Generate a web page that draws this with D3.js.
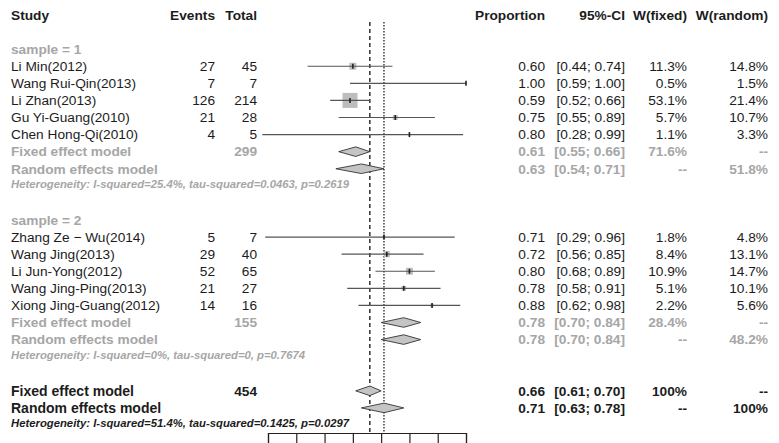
<!DOCTYPE html>
<html>
<head>
<meta charset="utf-8">
<script src="https://cdn.jsdelivr.net/npm/d3@7"></script>
<style>
  body { margin: 0; background: #fff; }
  text { font-family: "Liberation Sans", Arial, sans-serif; }
</style>
</head>
<body>
<div id="visualization"></div>
<script>
// Study level data
const studies = ["Li Min(2012)", "Wang Rui-Qin(2013)", "Li Zhan(2013)", "Gu Yi-Guang(2010)", "Chen Hong-Qi(2010)",
                 "Zhang Ze \u2212 Wu(2014)", "Wang Jing(2013)", "Li Jun-Yong(2012)", "Wang Jing-Ping(2013)", "Xiong Jing-Guang(2012)"];
const sampleGroup = [1, 1, 1, 1, 1, 2, 2, 2, 2, 2];
const events = [27, 7, 126, 21, 4, 5, 29, 52, 21, 14];
const totals = [45, 7, 214, 28, 5, 7, 40, 65, 27, 16];
const proportion = [0.60, 1.00, 0.59, 0.75, 0.80, 0.71, 0.72, 0.80, 0.78, 0.88];
const ciLower = [0.44, 0.59, 0.52, 0.55, 0.28, 0.29, 0.56, 0.68, 0.58, 0.62];
const ciUpper = [0.74, 1.00, 0.66, 0.89, 0.99, 0.96, 0.85, 0.89, 0.91, 0.98];
const weightFixed = [11.3, 0.5, 53.1, 5.7, 1.1, 1.8, 8.4, 10.9, 5.1, 2.2];
const weightRandom = [14.8, 1.5, 21.4, 10.7, 3.3, 4.8, 13.1, 14.7, 10.1, 5.6];

// Pooled estimates: sample 1, sample 2, overall
const poolTotals = [299, 155, 454];
const fixedEst = [0.61, 0.78, 0.66];
const fixedLower = [0.55, 0.70, 0.61];
const fixedUpper = [0.66, 0.84, 0.70];
const fixedWeight = ["71.6%", "28.4%", "100%"];
const randomEst = [0.63, 0.78, 0.71];
const randomLower = [0.54, 0.70, 0.63];
const randomUpper = [0.71, 0.84, 0.78];
const randomWeight = ["51.8%", "48.2%", "100%"];
const heterogeneity = [
  "Heterogeneity: I-squared=25.4%, tau-squared=0.0463, p=0.2619",
  "Heterogeneity: I-squared=0%, tau-squared=0, p=0.7674",
  "Heterogeneity: I-squared=51.4%, tau-squared=0.1425, p=0.0297"
];
const axisTicks = [0.3, 0.4, 0.5, 0.6, 0.7, 0.8, 0.9, 1.0];

const width = 779, height = 443;
const grey = "#a6a6a6", dark = "#1c1c1c";
const fs = 13.7;

const svg = d3.select("#visualization").append("svg")
    .attr("width", width)
    .attr("height", height);

// Scales: x for proportion, row index -> y
const x = d3.scaleLinear().domain([0.3, 1.0]).range([268, 466]);
const row = d3.scaleLinear().domain([0, 24]).range([15, 425]);

// Column positions
const col = { study: 11, events: 215, total: 257, prop: 545, ci: 625, wf: 687, wr: 768 };

const fmt2 = d3.format(".2f");
const ciText = (l, u) => "[" + fmt2(l) + "; " + fmt2(u) + "]";

function addText(txt, xPos, r, opts) {
    opts = opts || {};
    return svg.append("text")
        .attr("x", xPos)
        .attr("y", row(r) + (opts.dy || 0))
        .attr("dy", "0.35em")
        .attr("text-anchor", opts.anchor || "start")
        .attr("font-size", (opts.size || fs) + "px")
        .attr("font-weight", opts.bold ? "bold" : "normal")
        .attr("font-style", opts.italic ? "italic" : "normal")
        .attr("fill", opts.color || dark)
        .text(txt);
}

// Header
addText("Study", col.study, 0, { bold: true });
addText("Events", col.events, 0, { bold: true, anchor: "end" });
addText("Total", col.total, 0, { bold: true, anchor: "end" });
addText("Proportion", col.prop, 0, { bold: true, anchor: "end" });
addText("95%-CI", col.ci, 0, { bold: true, anchor: "end" });
addText("W(fixed)", col.wf, 0, { bold: true, anchor: "end" });
addText("W(random)", col.wr, 0, { bold: true, anchor: "end" });

// Reference lines for fixed (dashed) and random (dotted) pooled estimates
svg.append("line")
    .attr("x1", x(fixedEst[2])).attr("x2", x(fixedEst[2]))
    .attr("y1", 22).attr("y2", 433)
    .attr("stroke", "#222").attr("stroke-width", 1.4)
    .attr("stroke-dasharray", "4,3");
svg.append("line")
    .attr("x1", x(randomEst[2])).attr("x2", x(randomEst[2]))
    .attr("y1", 22).attr("y2", 433)
    .attr("stroke", "#222").attr("stroke-width", 1.3)
    .attr("stroke-dasharray", "1.5,1.5");

// Row layout: each sample block, then the overall block
const groupStart = [2, 12];
const studyRows = studies.map((s, i) => {
    const g = sampleGroup[i];
    const before = sampleGroup.slice(0, i).filter(v => v === g).length;
    return groupStart[g - 1] + 1 + before;
});

// Study rows
studies.forEach((s, i) => {
    const r = studyRows[i];
    const yy = row(r);
    addText(s, col.study, r);
    addText(events[i], col.events, r, { anchor: "end" });
    addText(totals[i], col.total, r, { anchor: "end" });
    addText(fmt2(proportion[i]), col.prop, r, { anchor: "end" });
    addText(ciText(ciLower[i], ciUpper[i]), col.ci, r, { anchor: "end" });
    addText(weightFixed[i].toFixed(1) + "%", col.wf, r, { anchor: "end" });
    addText(weightRandom[i].toFixed(1) + "%", col.wr, r, { anchor: "end" });

    // weight square (area proportional to fixed weight)
    const side = 2.06 * Math.sqrt(weightFixed[i]);
    svg.append("rect")
        .attr("x", x(proportion[i]) - side / 2)
        .attr("y", yy - side / 2)
        .attr("width", side)
        .attr("height", side)
        .attr("fill", "#bdbdbd");

    // confidence interval
    svg.append("line")
        .attr("x1", x(ciLower[i])).attr("x2", x(ciUpper[i]))
        .attr("y1", yy).attr("y2", yy)
        .attr("stroke", "#555").attr("stroke-width", 1.2);

    // point estimate tick
    svg.append("line")
        .attr("x1", x(proportion[i])).attr("x2", x(proportion[i]))
        .attr("y1", yy - 2.5).attr("y2", yy + 2.5)
        .attr("stroke", "#222").attr("stroke-width", 1.6);
});

function diamond(est, lo, hi, r) {
    const yy = row(r), h = 4.8;
    const pts = [[x(lo), yy], [x(est), yy - h], [x(hi), yy], [x(est), yy + h]];
    svg.append("path")
        .attr("d", d3.line()(pts) + "Z")
        .attr("fill", "#c4c4c4")
        .attr("stroke", "#333")
        .attr("stroke-width", 0.9);
}

// Pooled rows for both samples and overall
[0, 1, 2].forEach(k => {
    const overall = k === 2;
    const base = overall ? 21 : groupStart[k] + 5;
    const color = overall ? dark : grey;
    const lab = overall ? 14 : 13.7;
    if (!overall) addText("sample = " + (k + 1), col.study, groupStart[k], { color: grey, bold: true });

    addText("Fixed effect model", col.study, base + 1, { color: color, bold: true, size: lab });
    addText(poolTotals[k], col.total, base + 1, { color: color, bold: true, anchor: "end" });
    addText(fmt2(fixedEst[k]), col.prop, base + 1, { color: color, bold: true, anchor: "end" });
    addText(ciText(fixedLower[k], fixedUpper[k]), col.ci, base + 1, { color: color, bold: true, anchor: "end" });
    addText(fixedWeight[k], col.wf, base + 1, { color: color, bold: true, anchor: "end" });
    addText("--", col.wr, base + 1, { color: color, bold: true, anchor: "end" });
    diamond(fixedEst[k], fixedLower[k], fixedUpper[k], base + 1);

    addText("Random effects model", col.study, base + 2, { color: color, bold: true, size: lab });
    addText(fmt2(randomEst[k]), col.prop, base + 2, { color: color, bold: true, anchor: "end" });
    addText(ciText(randomLower[k], randomUpper[k]), col.ci, base + 2, { color: color, bold: true, anchor: "end" });
    addText("--", col.wf, base + 2, { color: color, bold: true, anchor: "end" });
    addText(randomWeight[k], col.wr, base + 2, { color: color, bold: true, anchor: "end" });
    diamond(randomEst[k], randomLower[k], randomUpper[k], base + 2);

    addText(heterogeneity[k], col.study, base + 3, { color: color, italic: true, bold: true, size: 11.3, dy: -1.5 });
});

// Axis (tick labels fall below the visible area in the reference)
svg.append("g")
    .attr("transform", "translate(0,433)")
    .call(d3.axisBottom(x).tickValues(axisTicks).tickSize(12).tickFormat(""))
    .call(g => g.selectAll("line, path").attr("stroke", "#222").attr("stroke-width", 1.2));
</script>
</body>
</html>
